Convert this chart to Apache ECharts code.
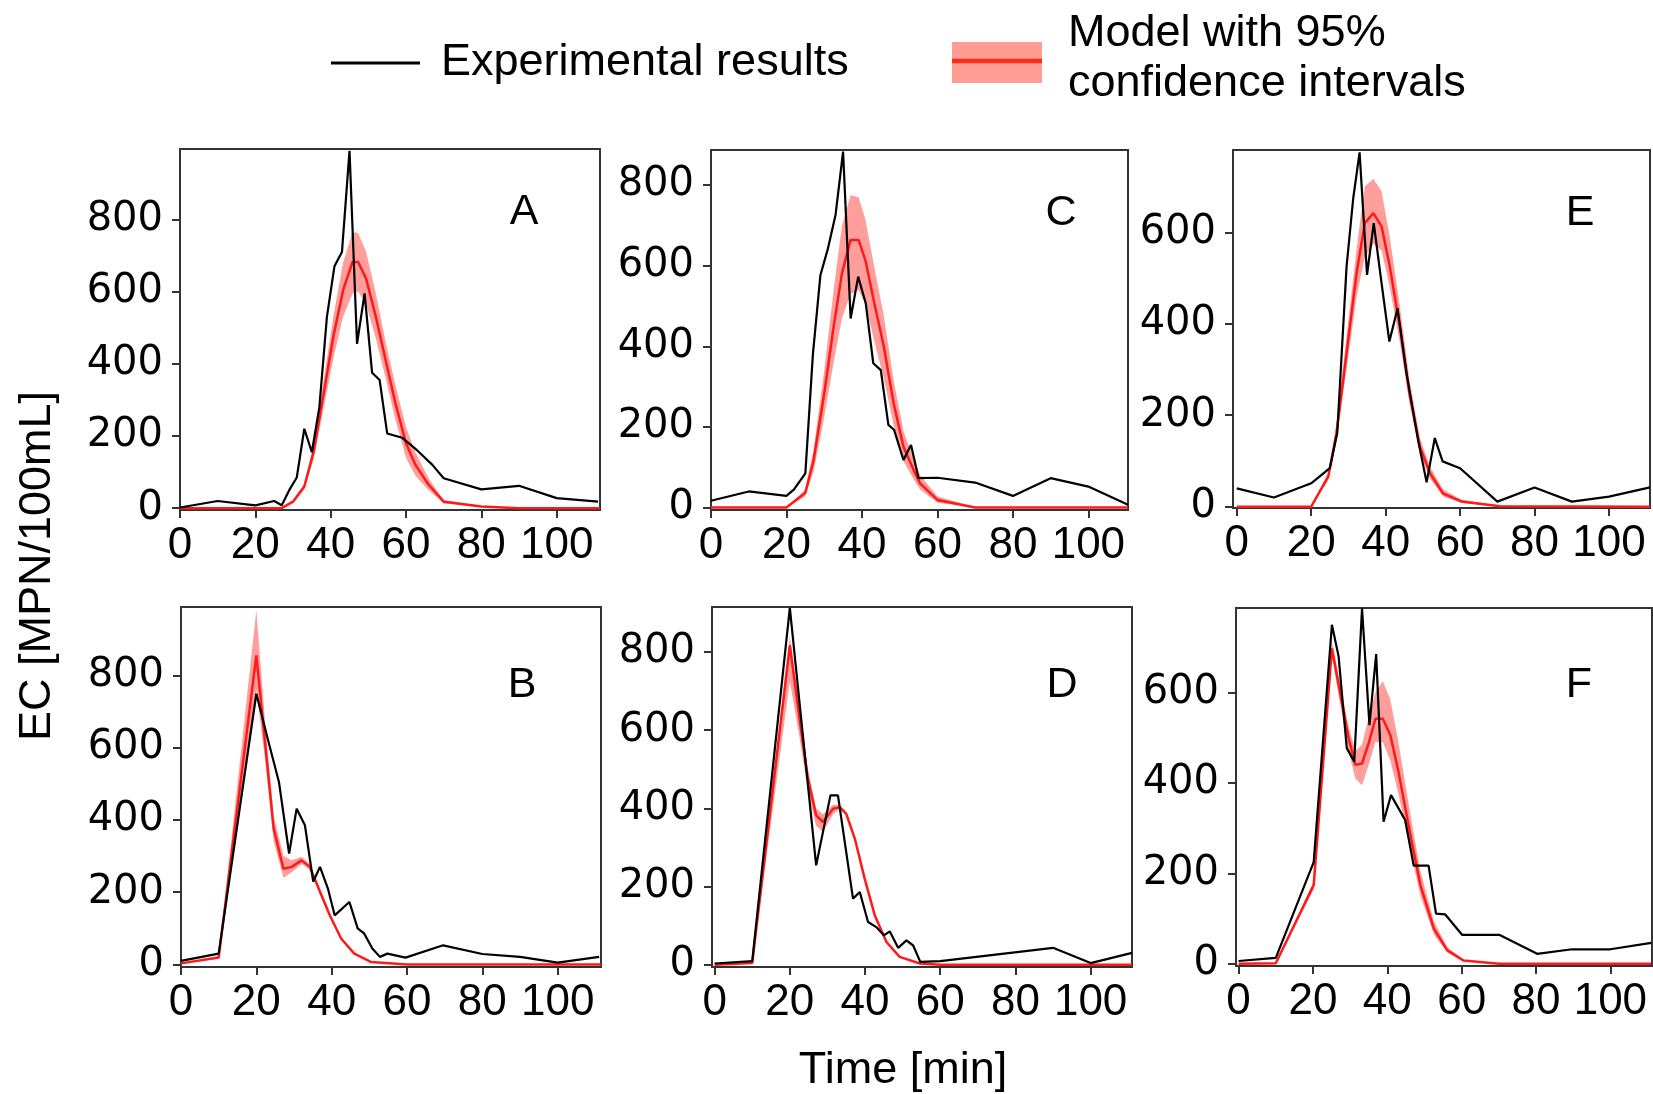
<!DOCTYPE html>
<html><head><meta charset="utf-8">
<script src="https://cdn.jsdelivr.net/npm/echarts@6/dist/echarts.min.js"></script>
<style>html,body{margin:0;padding:0;background:#fff}#c{width:1653px;height:1094px}</style>
</head><body><div id="c"></div>
<script>
// ---- tick values ----
const xTicks = [0, 20, 40, 60, 80, 100];
const yTicks = [0, 200, 400, 600, 800];
const panelLetters = ['A', 'B', 'C', 'D', 'E', 'F'];

// ---- Experimental results (time [min], EC [MPN/100mL]) ----
const expA_t  = [0, 10, 20, 25, 27, 29, 31, 33, 35, 37, 39, 41, 43, 45, 47, 49, 51, 53, 55, 59, 63, 67, 70, 80, 90, 100, 111];
const expA_ec = [2, 20, 8, 20, 8, 50, 85, 220, 155, 280, 530, 670, 710, 990, 455, 595, 375, 355, 207, 195, 160, 120, 83, 52, 62, 28, 18];
const expB_t  = [0, 10, 20, 23, 26, 28.7, 30.7, 32.9, 35.1, 36.9, 39, 40.8, 44.7, 46.9, 48.6, 50.8, 52.8, 54.8, 59.6, 69.6, 80, 90, 100, 111];
const expB_ec = [10, 30, 749, 625, 505, 307, 431, 385, 229, 270, 210, 136, 173, 100, 86, 44, 21, 30, 19, 53, 29, 21, 5, 21];
const expC_t  = [0, 10, 20, 22, 25, 27, 29, 31, 33, 35, 37, 39, 41, 43, 45, 47, 48.5, 51, 53, 55, 60, 70, 80, 90, 100, 110.5];
const expC_ec = [17, 40, 29, 45, 85, 380, 577, 643, 726, 883, 469, 573, 507, 358, 341, 205, 193, 118, 155, 73, 74, 62, 29, 73, 52, 7];
const expD_t  = [0, 10, 20, 27, 30.8, 32.8, 36.8, 38.6, 40.8, 43, 45, 46.6, 48.8, 51, 52.8, 54.7, 60, 90, 100, 111];
const expD_ec = [3, 9, 913, 254, 433, 433, 169, 186, 109, 96, 75, 85, 43, 62, 49, 7, 9, 43, 4, 30];
const expE_t  = [0, 10, 20, 25, 27, 29.5, 31.3, 33, 35, 36.8, 38.9, 41, 43.2, 45.6, 48.7, 51, 53.2, 55.3, 60, 70, 80, 90, 100, 111];
const expE_ec = [40, 20, 51, 84, 161, 525, 675, 775, 507, 620, 489, 361, 434, 292, 146, 53, 150, 99, 84, 11, 42, 11, 22, 42];
const expF_t  = [0, 10, 20.2, 25.1, 26.9, 29.1, 31.1, 33.2, 35.2, 37, 39, 41, 44.8, 47.1, 51.1, 53.1, 55.6, 60.1, 70.1, 80.3, 89.7, 100, 111];
const expF_ec = [6, 13, 225, 750, 680, 477, 447, 786, 528, 685, 314, 373, 318, 217, 217, 111, 109, 64, 64, 22, 32, 32, 46];

// ---- Model with 95% confidence intervals ----
const modA_t    = [0, 27, 30, 33, 35.5, 38, 40.7, 43.3, 45.8, 47.3, 49.4, 52, 54.6, 57.2, 60, 62.5, 66, 70, 80, 90, 111.5];
const modA_mean = [0, 0, 18, 60, 157, 309, 475, 604, 682, 682, 636, 530, 410, 290, 180, 120, 65, 18, 5, 0, 0];
const modA_lo   = [0, 0, 15, 52, 137, 270, 415, 530, 594, 600, 565, 470, 360, 245, 140, 90, 50, 14, 3, 0, 0];
const modA_hi   = [0, 0, 21, 68, 177, 345, 530, 680, 765, 762, 710, 595, 460, 340, 225, 155, 82, 23, 6, 0, 0];

const modB_t    = [0, 10, 20, 22.4, 24.6, 27.2, 29.4, 32, 34.2, 36.9, 39.5, 42.5, 46, 50.4, 60, 111.5];
const modB_mean = [3, 19, 855, 606, 376, 265, 270, 288, 270, 201, 136, 72, 30, 7, 0, 0];
const modB_lo   = [2, 16, 760, 560, 340, 240, 255, 278, 262, 195, 132, 70, 29, 7, 0, 0];
const modB_hi   = [4, 22, 980, 660, 410, 300, 288, 298, 278, 207, 140, 74, 31, 7, 0, 0];

const modC_t    = [0, 20, 25, 27.2, 30, 32.5, 34.7, 37, 39.1, 40.9, 43.1, 45.8, 48.4, 51, 53.7, 55.4, 60, 70, 110.5];
const modC_mean = [0, 0, 37, 118, 283, 449, 581, 664, 664, 614, 515, 399, 259, 151, 93, 60, 19, 0, 0];
const modC_lo   = [0, 0, 28, 90, 225, 360, 470, 530, 540, 505, 420, 320, 205, 115, 70, 45, 12, 0, 0];
const modC_hi   = [0, 0, 45, 145, 340, 540, 700, 775, 770, 715, 605, 475, 315, 190, 120, 80, 28, 0, 0];

const modD_t    = [0, 10, 20, 22.6, 24.8, 27, 28.8, 31.5, 33.3, 35, 37.3, 39.9, 42.6, 45.7, 49.2, 54.6, 60, 111];
const modD_mean = [0, 4, 817, 629, 476, 382, 365, 399, 403, 386, 322, 220, 126, 58, 20, 3, 0, 0];
const modD_lo   = [0, 3, 725, 580, 445, 355, 340, 385, 398, 383, 320, 218, 125, 57, 20, 3, 0, 0];
const modD_hi   = [0, 5, 840, 660, 500, 400, 385, 410, 408, 390, 325, 222, 128, 59, 20, 3, 0, 0];

const modE_t    = [0, 20, 24.6, 26.8, 29.5, 32.2, 34.4, 36.7, 38.9, 41.1, 43.8, 46.4, 49.2, 51.9, 55.4, 60.4, 70.7, 111];
const modE_mean = [0, 0, 66, 161, 336, 511, 620, 642, 613, 526, 394, 248, 131, 73, 29, 11, 1, 0];
const modE_lo   = [0, 0, 58, 145, 300, 460, 545, 575, 560, 480, 360, 225, 115, 62, 22, 8, 0, 0];
const modE_hi   = [0, 0, 74, 178, 372, 565, 700, 717, 690, 590, 440, 278, 150, 88, 38, 15, 2, 0];

const modF_t    = [0, 10, 20.2, 25.1, 27.4, 29.6, 31.4, 33.2, 35, 36.8, 38.8, 40.8, 43, 45.7, 48.9, 52.5, 56.1, 60.5, 70, 111];
const modF_mean = [0, 1, 174, 698, 595, 499, 440, 443, 488, 542, 542, 506, 425, 307, 174, 78, 30, 7, 0, 0];
const modF_lo   = [0, 1, 165, 680, 570, 470, 410, 395, 440, 490, 490, 450, 375, 270, 150, 65, 25, 6, 0, 0];
const modF_hi   = [0, 1, 182, 712, 615, 525, 470, 485, 545, 600, 625, 585, 490, 355, 205, 95, 37, 8, 0, 0];

// ---- assemble ----
const panelData = {
  A: {et: expA_t, ec: expA_ec, mt: modA_t, mm: modA_mean, ml: modA_lo, mh: modA_hi},
  B: {et: expB_t, ec: expB_ec, mt: modB_t, mm: modB_mean, ml: modB_lo, mh: modB_hi},
  C: {et: expC_t, ec: expC_ec, mt: modC_t, mm: modC_mean, ml: modC_lo, mh: modC_hi},
  D: {et: expD_t, ec: expD_ec, mt: modD_t, mm: modD_mean, ml: modD_lo, mh: modD_hi},
  E: {et: expE_t, ec: expE_ec, mt: modE_t, mm: modE_mean, ml: modE_lo, mh: modE_hi},
  F: {et: expF_t, ec: expF_ec, mt: modF_t, mm: modF_mean, ml: modF_lo, mh: modF_hi}
};

// layout (pixels) and axis ranges
const layout = {
  A: {grid: {left: 180, top: 149, width: 420, height: 361}, x: [0, 111.5], y: [-5, 995], label: [524, 212]},
  C: {grid: {left: 711, top: 150, width: 417, height: 360}, x: [0, 110.5], y: [-6, 887], label: [1061, 213]},
  E: {grid: {left: 1233, top: 150, width: 417, height: 358}, x: [-1, 111], y: [-3, 780], label: [1580, 213]},
  B: {grid: {left: 181, top: 607, width: 420, height: 360}, x: [0, 111.5], y: [-7, 989], label: [522, 685]},
  D: {grid: {left: 712, top: 607, width: 420, height: 360}, x: [-0.7, 111], y: [-6, 915], label: [1062, 685]},
  F: {grid: {left: 1236, top: 608, width: 416, height: 358}, x: [-0.7, 111.2], y: [-5, 787], label: [1579, 685]}
};

const frameColor = '#333';
const grids = [], xAxes = [], yAxes = [], series = [], graphics = [];

panelLetters.forEach((k, i) => {
  const L = layout[k], D = panelData[k];
  grids.push(Object.assign({show: true, borderColor: frameColor, borderWidth: 2, backgroundColor: 'transparent', containLabel: false}, L.grid));
  xAxes.push({
    type: 'value', gridIndex: i, min: L.x[0], max: L.x[1],
    axisLine: {show: true, onZero: false, lineStyle: {color: frameColor, width: 2}},
    axisTick: {show: true, inside: false, length: 8, customValues: xTicks, lineStyle: {color: frameColor, width: 2}},
    axisLabel: {show: true, customValues: xTicks, margin: 14, fontSize: 44, fontFamily: '"Liberation Sans", Arial, sans-serif', color: '#000'},
    splitLine: {show: false}
  });
  yAxes.push({
    type: 'value', gridIndex: i, min: L.y[0], max: L.y[1],
    axisLine: {show: true, onZero: false, lineStyle: {color: frameColor, width: 2}},
    axisTick: {show: true, inside: false, length: 8, customValues: yTicks, lineStyle: {color: frameColor, width: 2}},
    axisLabel: {show: true, customValues: yTicks, margin: 17, fontSize: 40, fontFamily: '"DejaVu Sans", sans-serif', color: '#000'},
    splitLine: {show: false}
  });
  // confidence band: polygon through upper bound then back along lower bound
  series.push({
    type: 'custom', xAxisIndex: i, yAxisIndex: i, silent: true, clip: true,
    encode: {x: 0, y: [1, 2]},
    data: D.mt.map((t, j) => [t, D.ml[j], D.mh[j]]),
    renderItem: function (params, api) {
      if (params.dataIndex !== 0) return null;
      const pts = [];
      for (let j = 0; j < D.mt.length; j++) pts.push(api.coord([D.mt[j], D.mh[j]]));
      for (let j = D.mt.length - 1; j >= 0; j--) pts.push(api.coord([D.mt[j], D.ml[j]]));
      return {type: 'polygon', shape: {points: pts}, style: {fill: 'rgba(255,40,30,0.45)', stroke: 'none'}};
    }
  });
  series.push({
    type: 'line', xAxisIndex: i, yAxisIndex: i, symbol: 'none',
    lineStyle: {color: '#ff1a1a', width: 2.5},
    data: D.mt.map((t, j) => [t, D.mm[j]])
  });
  series.push({
    type: 'line', xAxisIndex: i, yAxisIndex: i, symbol: 'none',
    lineStyle: {color: '#000', width: 2.2},
    data: D.et.map((t, j) => [t, D.ec[j]])
  });
  graphics.push({
    type: 'text', x: L.label[0], y: L.label[1],
    style: {text: k, font: '43px "Liberation Sans", Arial, sans-serif', fill: '#000', align: 'center', verticalAlign: 'middle'}
  });
});

const font45 = '45px "Liberation Sans", Arial, sans-serif';
// legend
graphics.push({type: 'line', shape: {x1: 331, y1: 63, x2: 420, y2: 63}, style: {stroke: '#000', lineWidth: 3}});
graphics.push({type: 'text', x: 441, y: 63, style: {text: 'Experimental results', font: font45, fill: '#000', align: 'left', verticalAlign: 'middle'}});
graphics.push({type: 'rect', shape: {x: 952, y: 42, width: 90, height: 41}, style: {fill: '#ff9c94'}});
graphics.push({type: 'line', shape: {x1: 952, y1: 61, x2: 1042, y2: 61}, style: {stroke: '#ff2a1a', lineWidth: 4.5}});
graphics.push({type: 'text', x: 1068, y: 34, style: {text: 'Model with 95%', font: font45, fill: '#000', align: 'left', verticalAlign: 'middle'}});
graphics.push({type: 'text', x: 1068, y: 84, style: {text: 'confidence intervals', font: font45, fill: '#000', align: 'left', verticalAlign: 'middle'}});
// axis titles
graphics.push({type: 'text', x: 903, y: 1071, style: {text: 'Time [min]', font: font45, fill: '#000', align: 'center', verticalAlign: 'middle'}});
graphics.push({type: 'text', x: 38, y: 566, rotation: Math.PI / 2, style: {text: 'EC [MPN/100mL]', font: font45, fill: '#000', align: 'center', verticalAlign: 'middle'}});

const chart = echarts.init(document.getElementById('c'), null, {renderer: 'canvas'});
chart.setOption({
  animation: false,
  backgroundColor: '#fff',
  grid: grids,
  xAxis: xAxes,
  yAxis: yAxes,
  series: series,
  graphic: graphics
});
</script>
</body></html>
